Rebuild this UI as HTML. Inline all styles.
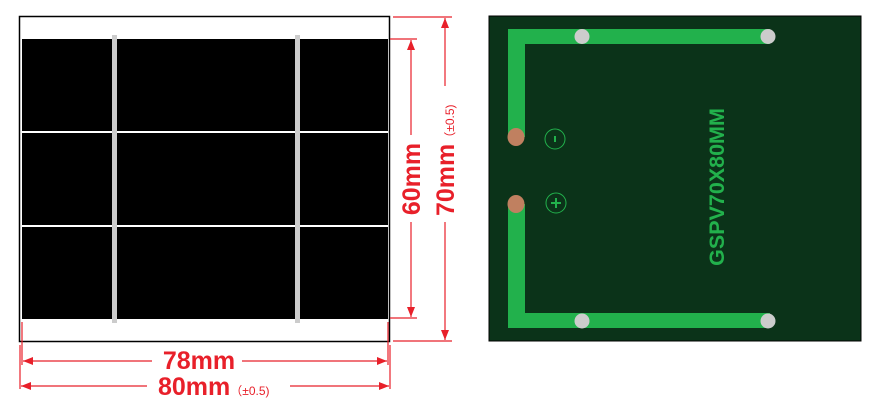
<!DOCTYPE html>
<html><head><style>body{margin:0;background:#fff}svg{display:block}</style></head><body>
<svg width="879" height="418" viewBox="0 0 879 418" xmlns="http://www.w3.org/2000/svg" font-family="Liberation Sans, sans-serif">
<defs><marker id="a" markerWidth="10" markerHeight="8" refX="10" refY="4" orient="auto" markerUnits="userSpaceOnUse"><path d="M0,0L10,4L0,8z" fill="#e8202a"/></marker></defs>
<rect x="19.5" y="16.5" width="370" height="325" fill="#fff" stroke="#000" stroke-width="1.5"/>
<rect x="22" y="39" width="366" height="280" fill="#000"/>
<rect x="22" y="131" width="366" height="2" fill="#fff"/>
<rect x="22" y="225" width="366" height="2" fill="#fff"/>
<rect x="112" y="35" width="5" height="288" fill="#ccc"/>
<rect x="295" y="35" width="5" height="288" fill="#ccc"/>
<g stroke="#e8202a" stroke-width="1.2" fill="none">
<path d="M22,322V365M20,345V389M388,322V365M390,345V389"/>
<path d="M390,39H417M390,318H417M393,17H452M393,341H452"/>
<path d="M152,361H23" marker-end="url(#a)"/><path d="M242,361H387" marker-end="url(#a)"/>
<path d="M147,386H21" marker-end="url(#a)"/><path d="M290,386H389" marker-end="url(#a)"/>
<path d="M411,135V40" marker-end="url(#a)"/><path d="M411,222V317" marker-end="url(#a)"/>
<path d="M445,86V18" marker-end="url(#a)"/><path d="M445,222V340" marker-end="url(#a)"/>
</g>
<g fill="#e8202a" font-weight="bold">
<text x="199" y="369" font-size="25" text-anchor="middle">78mm</text>
<text x="158" y="395" font-size="25">80mm<tspan font-size="12" font-weight="normal">（±0.5)</tspan></text>
<text transform="translate(420,179) rotate(-90)" font-size="25" text-anchor="middle">60mm</text>
<text transform="translate(454,216) rotate(-90)" font-size="25">70mm<tspan font-size="12" font-weight="normal">（±0.5)</tspan></text>
</g>
<rect x="489" y="16" width="372" height="325" fill="#0b3319" stroke="#000" stroke-width="1"/>
<g fill="#22b14c">
<rect x="508" y="29" width="262" height="15"/>
<rect x="508" y="29" width="17" height="108"/>
<rect x="508" y="204" width="17" height="124"/>
<rect x="508" y="313" width="262" height="15"/>
</g>
<g fill="#cccccc"><circle cx="582" cy="36.5" r="7.5"/><circle cx="768" cy="36.5" r="7.5"/><circle cx="582" cy="321" r="7.5"/><circle cx="768" cy="321" r="7.5"/></g>
<g fill="#c08060"><ellipse cx="516" cy="137" rx="8.5" ry="9"/><ellipse cx="516" cy="204" rx="8.5" ry="9"/></g>
<g stroke="#22b14c" fill="none"><circle cx="555" cy="139" r="10"/><circle cx="556" cy="203" r="10"/>
<path d="M555,136V142" stroke-width="2"/><path d="M556,198V208M551,203H561" stroke-width="2"/></g>
<text transform="translate(724,187) rotate(-90)" font-size="21.5" font-weight="bold" fill="#22b14c" text-anchor="middle">GSPV70X80MM</text>
</svg>
</body></html>
